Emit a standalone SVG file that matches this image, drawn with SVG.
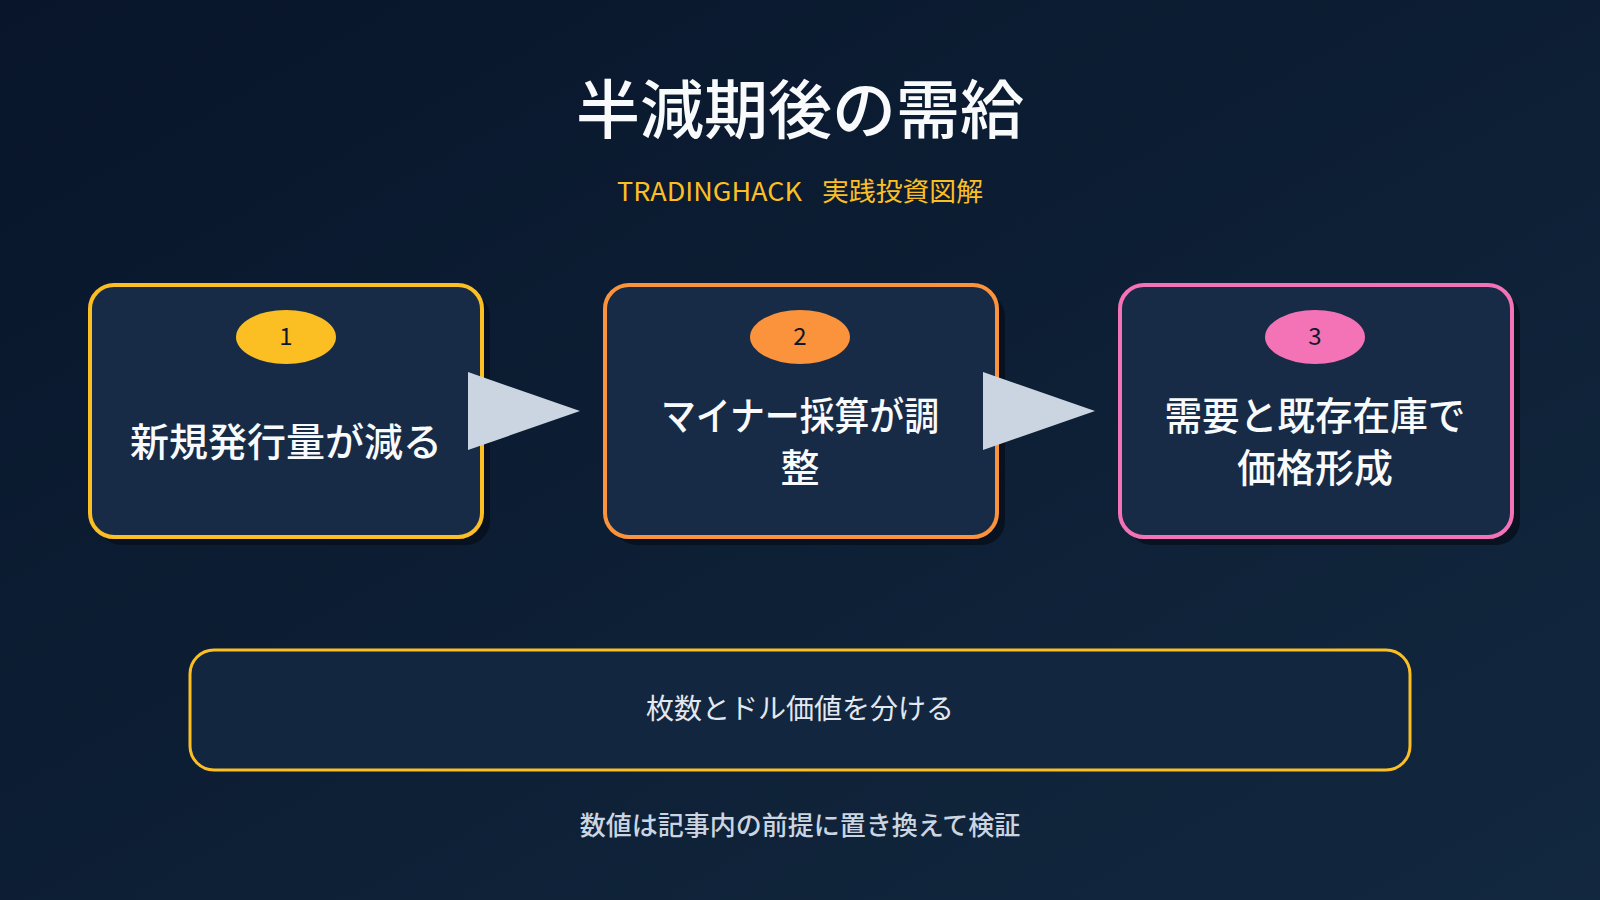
<svg xmlns="http://www.w3.org/2000/svg" width="1600" height="900" viewBox="0 0 1600 900">
  <defs>
    <linearGradient id="bg" x1="0" y1="0" x2="1" y2="1">
      <stop offset="0" stop-color="#08152a"/>
      <stop offset="1" stop-color="#12283f"/>
    </linearGradient>
    <style>
      .jp { font-family: "Noto Sans CJK JP", "Noto Sans", sans-serif; }
      .title { font-size: 64px; font-weight: 500; fill: #f8fafc; }
      .sub { font-size: 26px; font-weight: 400; fill: #fbbf24; }
      .shadow { fill: #070f1c; opacity: 0.85; }
      .card { fill: #172b47; stroke-width: 4; }
      .label { font-size: 39px; font-weight: 500; fill: #f8fafc; }
      .num { font-size: 24px; font-weight: 400; fill: #0f172a; }
      .arrow { fill: #cbd5e1; }
      .note { fill: #13263f; stroke: #fbbf24; stroke-width: 3; }
      .notetext { font-size: 28px; font-weight: 400; fill: #e2e8f0; }
      .foot { font-size: 26px; font-weight: 500; fill: #cbd5e1; }
    </style>
  </defs>
  <rect x="0" y="0" width="1600" height="900" fill="url(#bg)"/>

  <text class="jp title" x="800" y="133" text-anchor="middle">半減期後の需給</text>
  <text class="jp sub" x="617" y="201" textLength="185" lengthAdjust="spacingAndGlyphs">TRADINGHACK</text>
  <text class="jp sub" x="822" y="201" textLength="161" lengthAdjust="spacingAndGlyphs">実践投資図解</text>

  <g id="node1">
    <rect class="shadow" x="98" y="293" width="392" height="252" rx="24"/>
    <rect class="card" x="90" y="285" width="392" height="252" rx="24" stroke="#fbbf24"/>
    <ellipse cx="286" cy="337" rx="50" ry="27" fill="#fbbf24"/>
    <text class="jp num" x="286" y="345" text-anchor="middle">1</text>
    <text class="jp label" x="286" y="456" text-anchor="middle">新規発行量が減る</text>
  </g>

  <g id="node2">
    <rect class="shadow" x="613" y="293" width="392" height="252" rx="24"/>
    <rect class="card" x="605" y="285" width="392" height="252" rx="24" stroke="#fb923c"/>
    <ellipse cx="800" cy="337" rx="50" ry="27" fill="#fb923c"/>
    <text class="jp num" x="800" y="345" text-anchor="middle">2</text>
    <text class="jp label" x="800" y="430" text-anchor="middle" textLength="278" lengthAdjust="spacingAndGlyphs">マイナー採算が調</text>
    <text class="jp label" x="800" y="482" text-anchor="middle">整</text>
  </g>

  <g id="node3">
    <rect class="shadow" x="1128" y="293" width="392" height="252" rx="24"/>
    <rect class="card" x="1120" y="285" width="392" height="252" rx="24" stroke="#f472b6"/>
    <ellipse cx="1315" cy="337" rx="50" ry="27" fill="#f472b6"/>
    <text class="jp num" x="1315" y="345" text-anchor="middle">3</text>
    <text class="jp label" x="1315" y="430" text-anchor="middle" textLength="301" lengthAdjust="spacingAndGlyphs">需要と既存在庫で</text>
    <text class="jp label" x="1315" y="482" text-anchor="middle">価格形成</text>
  </g>

  <g id="connectors">
    <polygon class="arrow" points="468,372 580,411 468,450"/>
    <polygon class="arrow" points="983,372 1095,411 983,450"/>
  </g>

  <g id="note">
    <rect class="note" x="190" y="650" width="1220" height="120" rx="24"/>
    <text class="jp notetext" x="800" y="719" text-anchor="middle">枚数とドル価値を分ける</text>
  </g>

  <text class="jp foot" x="800" y="835" text-anchor="middle">数値は記事内の前提に置き換えて検証</text>
</svg>
